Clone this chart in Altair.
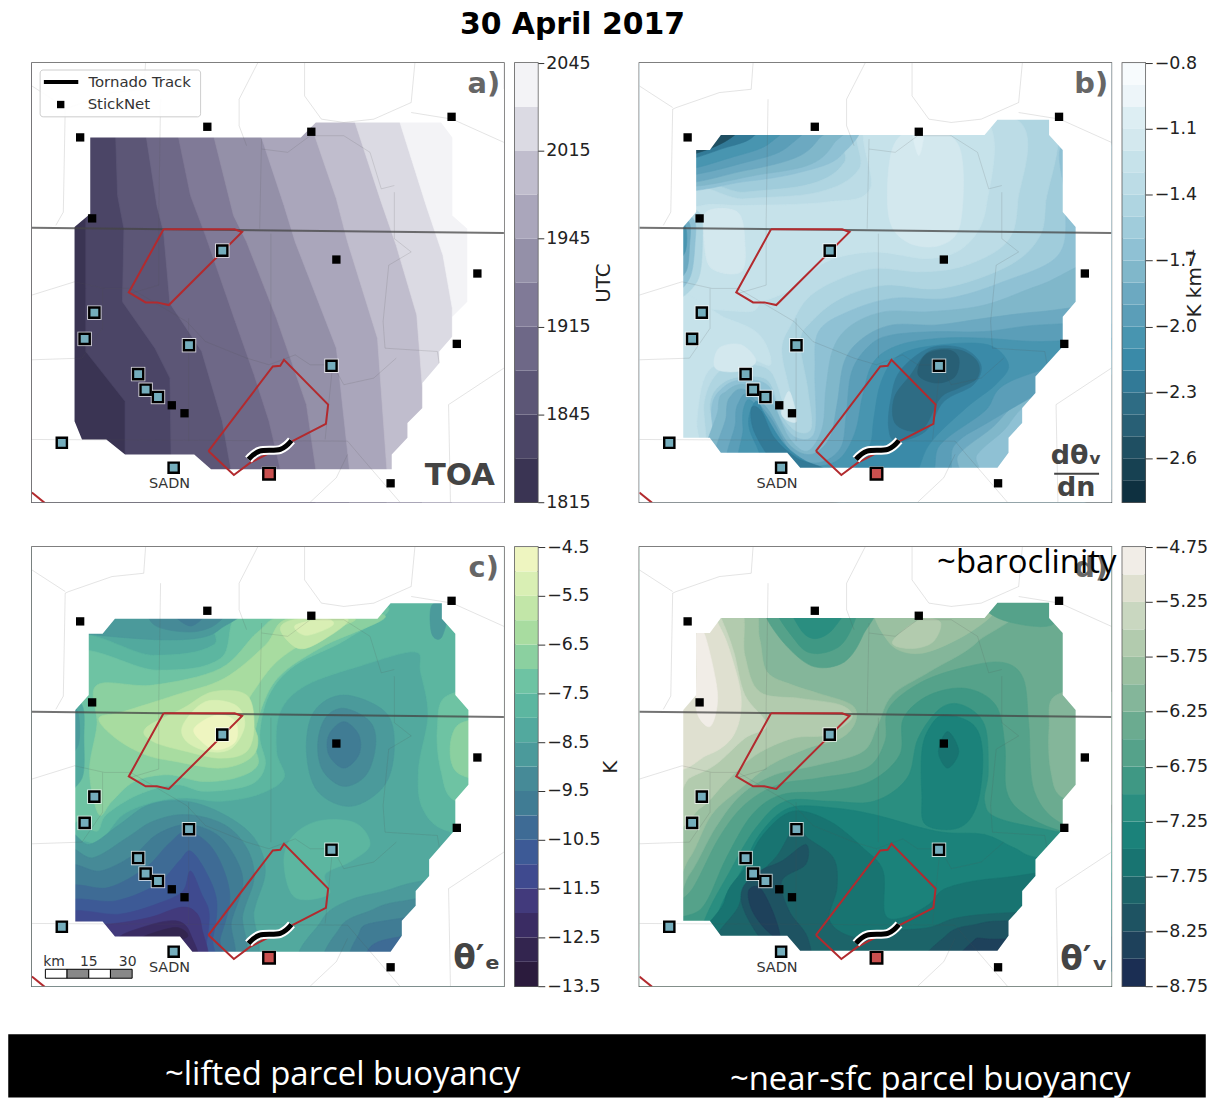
import altair as alt
import pandas as pd

# ---- colour bands (upper bound of each band -> colour) ----
a_ticks = [1095, 1125, 1155, 1185, 1215, 1245]   # minutes of day: 1815 ... 2045 UTC
a_edges = [1095, 1110, 1125, 1140, 1155, 1170, 1185, 1200, 1215, 1230, 1245]
a_cols = ["#3a3453", "#4b4566", "#5c5676", "#6e6887", "#807a97", "#9490a8", "#aaa6bb", "#c0bdcd", "#dbdae3", "#f3f3f6"]

b_edges = [-2.8, -2.7, -2.6, -2.5, -2.4, -2.3, -2.2, -2.1, -2.0, -1.9, -1.8, -1.7, -1.6, -1.5, -1.4, -1.3, -1.2, -1.1, -1.0, -0.9, -0.8]
b_cols = ["#0e3040", "#174152", "#1f4f62", "#285f75", "#2e6c84", "#327a97", "#3a8aa8", "#4895b0", "#5b9eb8", "#6ca9c1",
          "#80b7ca", "#8fc1d4", "#a0ccdb", "#afd5e1", "#bcdce6", "#c6e2ea", "#d3e8ee", "#ddeef3", "#edf5f9", "#f7fbfd"]
b_ticks = [-0.8, -1.1, -1.4, -1.7, -2.0, -2.3, -2.6]

c_edges = [-13.5, -13, -12.5, -12, -11.5, -11, -10.5, -10, -9.5, -9, -8.5, -8, -7.5, -7, -6.5, -6, -5.5, -5, -4.5]
c_cols = ["#2b1b3d", "#33254f", "#3a2c63", "#423a7c", "#3f4a8f", "#3d5a96", "#3e6b95", "#407c94", "#468a97",
          "#4b9a9b", "#52a99e", "#5cb6a0", "#6ec3a3", "#8bd0a0", "#a8dca0", "#c2e6a8", "#d9efb4", "#eef5c0"]
c_ticks = [-4.5, -5.5, -6.5, -7.5, -8.5, -9.5, -10.5, -11.5, -12.5, -13.5]

d_edges = [-8.75, -8.5, -8.25, -8, -7.75, -7.5, -7.25, -7, -6.75, -6.5, -6.25, -6, -5.75, -5.5, -5.25, -5, -4.75]
d_cols = ["#1b2e53", "#1e415b", "#1e5362", "#1c6469", "#187471", "#1b827a", "#2a8e80", "#3f9884",
          "#55a28a", "#6bab90", "#84b69a", "#9bc0a1", "#b2cbae", "#c9d7c0", "#dfe0d0", "#f1ede7"]
d_ticks = [-4.75, -5.25, -5.75, -6.25, -6.75, -7.25, -7.75, -8.25, -8.75]

# ---- contour regions: (band upper bound, outline) in paint order ----
a_base = 1110
a_regions = [
    (1125, [(160, 100), (160, 515), (160, 700), (160, 890), (265, 1040), (265, 1200), (265, 1400), (1400, 1400), (1400, 100)]),
    (1140, [(240, 100), (240, 245), (245, 420), (262, 520), (258, 740), (345, 880), (385, 970), (388, 1200), (388, 1400), (1400, 1400), (1400, 100)]),
    (1155, [(322, 100), (322, 245), (350, 450), (368, 530), (385, 745), (470, 890), (525, 1100), (548, 1245), (548, 1400), (1400, 1400), (1400, 100)]),
    (1170, [(408, 100), (408, 245), (440, 420), (480, 540), (560, 800), (610, 960), (650, 1100), (680, 1245), (680, 1400), (1400, 1400), (1400, 100)]),
    (1185, [(503, 100), (503, 245), (555, 480), (590, 560), (670, 790), (750, 1050), (775, 1245), (775, 1400), (1400, 1400), (1400, 100)]),
    (1200, [(630, 100), (630, 245), (690, 450), (720, 560), (830, 880), (865, 1245), (865, 1400), (1400, 1400), (1400, 100)]),
    (1215, [(760, 100), (760, 200), (830, 430), (860, 560), (940, 850), (965, 1245), (965, 1400), (1400, 1400), (1400, 100)]),
    (1230, [(880, 100), (880, 200), (950, 440), (990, 570), (1045, 780), (1060, 1000), (1060, 1400), (1400, 1400), (1400, 100)]),
    (1245, [(1000, 100), (1000, 200), (1070, 450), (1115, 600), (1140, 760), (1140, 1400), (1400, 1400), (1400, 100)]),
]
a_mask = [(172, 245), (735, 245), (775, 200), (1110, 200), (1140, 245), (1140, 480), (1180, 520), (1180, 740), (1140, 785),
          (1140, 845), (1105, 890), (1105, 925), (1060, 985), (1060, 1060), (1020, 1105), (1020, 1150), (978, 1200), (978, 1245),
          (495, 1245), (450, 1200), (265, 1200), (215, 1155), (150, 1155), (130, 1100), (130, 515), (172, 475)]

b_base = -1.5
b_regions = [
    (-1.4, [(100, 430), (300, 410), (480, 385), (570, 320), (600, 190), (1110, 150), (1115, 450), (1090, 560), (1000, 640), (830, 700), (680, 690), (560, 730), (480, 800), (450, 860), (470, 1000), (480, 1120), (440, 1130), (400, 1080), (365, 980), (300, 965), (240, 985), (205, 1050), (220, 1200), (100, 1200)]),
    (-1.3, [(100, 450), (300, 430), (500, 410), (610, 340), (635, 190), (1035, 190), (1040, 440), (1010, 560), (900, 630), (780, 650), (650, 640), (540, 680), (470, 730), (430, 800), (400, 880), (420, 1000), (440, 1090), (410, 1060), (370, 950), (300, 930), (230, 950), (190, 1040), (190, 1200), (100, 1200)]),
    (-1.2, [(185, 450), (300, 450), (520, 440), (640, 400), (640, 190), (950, 190), (955, 450), (900, 570), (800, 610), (650, 590), (520, 620), (430, 700), (350, 740), (300, 770), (100, 720), (100, 500)]),
    (-1.2, [(100, 740), (250, 790), (340, 840), (370, 930), (300, 910), (200, 950), (170, 1100), (180, 1200), (100, 1200)]),
    (-1.1, [(700, 280), (770, 220), (880, 270), (885, 500), (830, 570), (740, 560), (690, 480)]),
    (-1.1, [(195, 470), (280, 470), (300, 560), (290, 650), (210, 640), (190, 560)]),
    (-1.1, [(230, 880), (290, 870), (330, 920), (280, 950), (220, 940)]),
    (-1.1, [(420, 1010), (440, 1100), (400, 1080)]),
    (-1.0, [(755, 225), (785, 225), (772, 300)]),
    (-1.4, [(100, 470), (175, 470), (185, 560), (170, 680), (100, 720)]),
    (-1.6, [(100, 480), (160, 490), (165, 560), (150, 670), (100, 700)]),
    (-1.8, [(100, 490), (148, 500), (150, 570), (140, 650), (100, 670)]),
    (-2.0, [(100, 500), (138, 510), (138, 590), (100, 620)]),
    (-1.6, [(100, 395), (300, 378), (450, 350), (560, 300), (580, 190), (100, 190)]),
    (-1.7, [(100, 385), (350, 355), (480, 325), (540, 265), (555, 190), (100, 190)]),
    (-1.8, [(100, 375), (300, 345), (440, 305), (500, 250), (520, 190), (100, 190)]),
    (-1.9, [(100, 355), (320, 315), (420, 270), (450, 190), (100, 190)]),
    (-2.0, [(100, 340), (280, 300), (370, 260), (400, 190), (100, 190)]),
    (-2.2, [(100, 315), (250, 275), (320, 245), (340, 190), (100, 190)]),
    (-2.5, [(100, 300), (190, 285), (270, 240), (290, 190), (100, 190)]),
    (-1.6, [(1160, 270), (1300, 300), (1300, 1300), (230, 1300), (225, 1210), (210, 1060), (245, 995), (300, 975), (365, 995), (395, 1090), (440, 1150), (490, 1130), (490, 950), (500, 830), (580, 770), (700, 730), (850, 730), (1000, 680), (1150, 600), (1170, 450)]),
    (-1.7, [(1300, 620), (1100, 690), (950, 750), (800, 770), (680, 770), (590, 810), (540, 880), (520, 1000), (510, 1120), (470, 1190), (420, 1150), (370, 1040), (300, 990), (250, 1010), (228, 1060), (240, 1300), (880, 1300), (930, 1200), (1000, 1130), (1080, 1040), (1300, 950)]),
    (-1.8, [(1300, 760), (1100, 770), (950, 790), (820, 810), (700, 810), (620, 850), (570, 920), (550, 1050), (530, 1150), (480, 1200), (420, 1170), (360, 1060), (300, 1005), (265, 1020), (250, 1080), (260, 1300), (830, 1300), (880, 1200), (970, 1120), (1060, 1030), (1300, 900)]),
    (-1.9, [(1300, 810), (1100, 810), (950, 830), (820, 830), (700, 840), (640, 870), (590, 950), (575, 1080), (560, 1180), (500, 1225), (430, 1200), (370, 1090), (310, 1020), (285, 1040), (275, 1100), (290, 1300), (800, 1300), (870, 1170), (980, 1090), (1300, 880)]),
    (-2.0, [(1300, 850), (1100, 860), (950, 850), (830, 850), (720, 870), (650, 920), (620, 1020), (600, 1130), (560, 1210), (500, 1235), (430, 1220), (370, 1120), (320, 1040), (300, 1050), (295, 1120), (320, 1300), (760, 1300), (830, 1170), (950, 1070), (1020, 980), (1300, 880)]),
    (-2.1, [(1015, 930), (960, 870), (830, 870), (720, 900), (670, 980), (650, 1090), (640, 1170), (600, 1240), (600, 1300), (740, 1300), (800, 1170), (900, 1060), (980, 990)]),
    (-2.1, [(330, 1040), (355, 1080), (400, 1160), (450, 1210), (520, 1250), (600, 1300), (400, 1300), (330, 1170), (310, 1100)]),
    (-2.2, [(940, 930), (890, 880), (800, 880), (720, 950), (695, 1040), (690, 1120), (710, 1160), (790, 1130), (840, 1040), (920, 990)]),
    (-2.2, [(318, 1060), (345, 1070), (380, 1150), (440, 1210), (520, 1250), (450, 1300), (380, 1230), (325, 1130)]),
    (-2.3, [(930, 920), (880, 885), (800, 890), (750, 960), (705, 1030), (710, 1110), (780, 1125), (830, 1030), (880, 1000), (930, 970)]),
    (-2.4, [(880, 910), (850, 885), (790, 900), (770, 960), (820, 985), (870, 965)]),
]
b_mask = [(168, 283), (205, 283), (235, 238), (950, 238), (985, 192), (1125, 192), (1125, 238), (1162, 283), (1162, 470), (1197, 515),
          (1197, 740), (1162, 785), (1162, 875), (1088, 965), (1088, 1015), (1052, 1060), (1052, 1105), (1015, 1150), (1015, 1195),
          (985, 1240), (450, 1240), (415, 1195), (235, 1195), (205, 1150), (133, 1150), (133, 515), (168, 470)]

c_base = -8
c_regions = [
    (-7.5, [(100, 320), (340, 350), (500, 320), (565, 200), (1300, 180), (1300, 880), (1130, 880), (1060, 810), (1050, 690), (1075, 530), (1055, 400), (1040, 340), (900, 380), (750, 440), (680, 520), (670, 640), (690, 720), (620, 770), (520, 790), (430, 780), (350, 790), (260, 830), (200, 910), (160, 910), (100, 880)]),
    (-7.5, [(710, 900), (780, 850), (880, 855), (920, 920), (870, 970), (800, 1010), (810, 1070), (720, 1080), (690, 980)]),
    (-7, [(100, 360), (350, 395), (520, 360), (595, 200), (960, 200), (860, 300), (720, 380), (650, 470), (625, 590), (640, 680), (600, 740), (480, 760), (400, 740), (300, 770), (215, 830), (190, 880), (140, 850), (100, 850)]),
    (-7, [(1130, 470), (1100, 570), (1110, 700), (1150, 790), (1300, 800), (1300, 470)]),
    (-6.5, [(190, 440), (340, 440), (520, 390), (620, 280), (700, 230), (960, 230), (800, 320), (690, 400), (640, 480), (610, 600), (620, 680), (560, 720), (470, 730), (380, 710), (290, 730), (230, 790), (195, 830), (170, 700), (190, 560)]),
    (-6.5, [(1155, 560), (1150, 700), (1300, 720), (1300, 560)]),
    (-6, [(260, 520), (400, 470), (530, 420), (640, 320), (700, 240), (880, 240), (780, 290), (680, 360), (620, 440), (590, 510), (620, 600), (600, 660), (520, 690), (400, 670), (320, 650), (240, 600), (195, 540)]),
    (-5.5, [(680, 270), (730, 240), (860, 240), (800, 300), (730, 330)]),
    (-5.5, [(320, 570), (420, 510), (500, 460), (590, 470), (610, 560), (590, 640), (520, 660), (430, 640), (340, 610)]),
    (-5, [(720, 260), (800, 240), (820, 260), (750, 290)]),
    (-5, [(420, 560), (480, 490), (560, 500), (585, 560), (550, 630), (490, 640), (430, 610)]),
    (-4.5, [(450, 570), (510, 530), (560, 550), (560, 610), (510, 635), (470, 610)]),
    (-8, [(100, 480), (150, 500), (155, 600), (150, 720), (100, 740)]),
    (-8.5, [(100, 500), (138, 520), (140, 620), (100, 650)]),
    (-8.5, [(100, 270), (300, 300), (450, 300), (520, 270), (560, 200), (100, 200)]),
    (-9, [(340, 200), (345, 260), (440, 280), (510, 255), (530, 200)]),
    (-9.5, [(380, 200), (440, 262), (490, 200)]),
    (-8.5, [(1085, 200), (1085, 285), (1112, 295), (1130, 200)]),
    (-8.5, [(100, 900), (170, 920), (250, 860), (330, 800), (430, 790), (530, 830), (610, 900), (640, 1000), (610, 1120), (580, 1300), (100, 1300)]),
    (-8.5, [(760, 1300), (790, 1150), (860, 1090), (960, 1060), (1060, 1030), (1300, 1000), (1300, 1300)]),
    (-8.5, [(850, 470), (960, 520), (985, 620), (960, 740), (870, 805), (780, 760), (750, 640), (770, 520)]),
    (-9, [(100, 950), (180, 960), (270, 900), (340, 850), (430, 830), (530, 860), (590, 930), (610, 1020), (580, 1130), (550, 1300), (100, 1300)]),
    (-9, [(830, 1300), (840, 1170), (920, 1120), (1010, 1090), (1300, 1060), (1300, 1300)]),
    (-9, [(850, 510), (920, 550), (935, 620), (910, 710), (850, 745), (795, 700), (780, 620), (800, 540)]),
    (-9.5, [(100, 1000), (200, 1000), (290, 950), (350, 890), (430, 860), (510, 890), (560, 960), (580, 1040), (550, 1150), (520, 1300), (100, 1300)]),
    (-9.5, [(900, 1300), (890, 1190), (960, 1150), (1300, 1120), (1300, 1300)]),
    (-9.5, [(850, 550), (890, 590), (890, 650), (850, 690), (810, 650), (810, 590)]),
    (-10, [(100, 1060), (220, 1050), (320, 990), (380, 920), (430, 880), (490, 920), (530, 1000), (545, 1090), (520, 1200), (490, 1300), (100, 1300)]),
    (-10, [(960, 1300), (950, 1210), (1300, 1180), (1300, 1300)]),
    (-10.5, [(100, 1100), (240, 1090), (350, 1040), (410, 970), (440, 940), (480, 1000), (510, 1090), (500, 1200), (470, 1300), (100, 1300)]),
    (-11, [(100, 1130), (250, 1130), (360, 1095), (420, 1060), (440, 1000), (470, 1070), (490, 1130), (480, 1240), (470, 1300), (100, 1300)]),
    (-11.5, [(100, 1160), (220, 1160), (330, 1140), (410, 1110), (450, 1120), (470, 1170), (470, 1300), (230, 1300)]),
    (-12, [(240, 1210), (310, 1170), (400, 1150), (440, 1190), (450, 1300), (240, 1300)]),
    (-12.5, [(310, 1200), (400, 1170), (430, 1200), (330, 1215)]),
]
c_mask = [(168, 285), (205, 285), (238, 240), (940, 240), (975, 193), (1112, 193), (1112, 240), (1148, 285), (1148, 470), (1183, 515),
          (1183, 740), (1148, 785), (1148, 875), (1078, 965), (1078, 1015), (1042, 1060), (1042, 1105), (1005, 1150), (1005, 1195),
          (975, 1243), (445, 1243), (412, 1197), (238, 1197), (205, 1152), (132, 1152), (132, 515), (168, 470)]

d_base = -6.25
d_regions = [
    (-6, [(100, 1040), (150, 1010), (220, 870), (290, 770), (380, 710), (500, 680), (620, 640), (660, 560), (700, 470), (800, 400), (930, 310), (985, 190), (100, 190)]),
    (-6, [(1145, 470), (1125, 570), (1130, 700), (1165, 780), (1300, 790), (1300, 470)]),
    (-5.75, [(100, 980), (150, 960), (210, 830), (290, 750), (370, 680), (470, 630), (560, 600), (600, 550), (590, 500), (500, 465), (430, 440), (360, 400), (340, 300), (310, 190), (100, 190)]),
    (-5.75, [(670, 190), (690, 310), (770, 345), (880, 300), (970, 230), (970, 190)]),
    (-5.5, [(100, 830), (180, 810), (250, 730), (330, 650), (430, 600), (520, 590), (590, 540), (560, 500), (450, 480), (340, 460), (300, 350), (280, 190), (100, 190)]),
    (-5.5, [(700, 310), (770, 245), (830, 250), (810, 310), (750, 330)]),
    (-5.25, [(100, 760), (150, 720), (220, 680), (300, 600), (360, 560), (300, 470), (270, 340), (240, 250), (210, 190), (100, 190)]),
    (-5, [(100, 660), (200, 650), (270, 590), (290, 480), (260, 340), (230, 260), (190, 190), (100, 190)]),
    (-4.75, [(170, 285), (190, 285), (220, 420), (225, 500), (205, 565), (170, 520), (170, 400)]),
    (-6.5, [(360, 190), (360, 240), (420, 330), (490, 385), (570, 370), (620, 290), (640, 190)]),
    (-6.5, [(940, 170), (990, 240), (1130, 260), (1150, 170)]),
    (-6.75, [(390, 190), (440, 310), (490, 345), (560, 320), (600, 240), (600, 190)]),
    (-7, [(430, 190), (450, 270), (490, 300), (540, 270), (570, 190)]),
    (-6.5, [(100, 1130), (160, 1050), (230, 900), (300, 800), (390, 740), (500, 720), (630, 690), (680, 610), (690, 510), (780, 430), (900, 385), (1000, 372), (1055, 420), (1070, 560), (1085, 760), (1165, 860), (1300, 870), (1300, 1300), (100, 1300)]),
    (-6.75, [(100, 1160), (185, 1110), (250, 960), (320, 830), (400, 770), (520, 760), (640, 730), (720, 650), (730, 540), (800, 470), (900, 450), (980, 500), (1005, 620), (1010, 760), (1060, 830), (1160, 880), (1300, 900), (1300, 1300), (100, 1300)]),
    (-7, [(160, 1300), (190, 1150), (260, 1000), (330, 870), (410, 790), (530, 790), (650, 790), (740, 720), (770, 600), (830, 510), (890, 500), (950, 560), (960, 700), (950, 790), (985, 840), (1140, 880), (1300, 910), (1300, 1300)]),
    (-7.25, [(200, 1300), (230, 1120), (290, 1000), (340, 890), (420, 810), (540, 810), (650, 830), (780, 870), (850, 885), (950, 890), (1030, 930), (1100, 960), (1300, 960), (1300, 1300)]),
    (-7.25, [(840, 530), (920, 560), (945, 650), (930, 800), (880, 870), (790, 860), (780, 770), (780, 640), (800, 570)]),
    (-7.5, [(850, 580), (880, 640), (850, 690), (825, 640)]),
    (-7.5, [(240, 1300), (245, 1090), (300, 990), (350, 890), (430, 820), (530, 850), (620, 930), (675, 1000), (680, 1130), (730, 1140), (800, 1100), (850, 1050), (1000, 1020), (1300, 1010), (1300, 1300)]),
    (-7.75, [(280, 1300), (285, 1100), (340, 1010), (390, 950), (440, 860), (470, 900), (540, 960), (550, 1050), (530, 1150), (600, 1200), (700, 1180), (800, 1170), (880, 1140), (1030, 1125), (1300, 1120), (1300, 1300)]),
    (-8, [(295, 1050), (340, 1000), (400, 970), (465, 920), (465, 980), (400, 1030), (420, 1120), (470, 1200), (480, 1300), (420, 1300), (340, 1200), (295, 1110)]),
    (-8, [(810, 1300), (850, 1190), (930, 1160), (1015, 1150), (1300, 1150), (1300, 1300)]),
    (-8.25, [(900, 1300), (920, 1210), (990, 1205), (1300, 1200), (1300, 1300)]),
    (-8.25, [(310, 1060), (340, 1050), (375, 1120), (395, 1200), (360, 1180), (320, 1120)]),
]
d_mask = b_mask

# ---- map geography, shared by all panels ----
state_lines = [
    [(320, 20), (315, 100), (230, 110), (115, 155), (105, 160), (100, 470), (80, 510)],
    [(16, 90), (105, 155)],
    [(620, 20), (570, 130), (570, 210), (590, 270)],
    [(745, 20), (745, 120), (790, 190), (850, 200), (930, 190), (1030, 140), (1040, 20)],
    [(1030, 170), (1140, 190), (1278, 260)],
    [(360, 130), (355, 500), (355, 690), (280, 715)],
    [(630, 250), (625, 520)],
    [(655, 535), (655, 910)],
    [(630, 280), (700, 290), (760, 240), (850, 240), (920, 290), (950, 400), (985, 390)],
    [(985, 410), (985, 550), (1030, 590), (970, 630), (955, 800), (960, 880), (1100, 890), (1105, 925)],
    [(16, 720), (130, 680), (210, 700), (280, 700), (340, 740), (430, 800), (480, 860), (590, 910), (650, 930), (720, 900), (760, 930), (820, 930), (850, 990), (930, 970), (990, 910)],
    [(205, 700), (205, 820), (150, 910), (16, 915)],
    [(435, 790), (435, 1160)],
    [(820, 930), (800, 1155)],
    [(16, 1155), (860, 1160), (890, 1200), (1000, 1344)],
    [(1278, 940), (1130, 1050), (1135, 1344)],
    [(860, 1200), (830, 1270), (760, 1344)],
]
border_line = [(16, 517), (1278, 533)]
warning_boxes = [
    [(368, 522), (558, 522), (578, 530), (382, 750), (350, 742), (320, 742), (275, 712), (368, 522)],
    [(488, 1190), (660, 935), (680, 933), (690, 915), (808, 1050), (802, 1108), (600, 1225), (556, 1262), (488, 1190)],
    [(16, 1315), (50, 1346)],
]
track = [(595, 1215), (625, 1190), (680, 1185), (710, 1158)]
sticknet = [(145, 245), (485, 213), (763, 228), (1138, 183), (177, 489), (830, 613), (1207, 655), (1152, 867), (390, 1052), (424, 1076), (975, 1287)]
blue_sites = [(525, 586), (183, 773), (157, 852), (436, 871), (817, 933), (300, 958), (320, 1005), (353, 1027), (96, 1165), (395, 1240)]
red_site = [(650, 1258)]
sadn_label = (384, 1290)

X_DOM = [16, 1278]
Y_DOM = [1344, 21]
WIDTH, HEIGHT = 474, 441
FONT = "DejaVu Sans"


def to_ac(p):
    return (16 + (p[0] - 14) * 1262 / 1280, p[1])


def line_frame(polys):
    rows = []
    for i, poly in enumerate(polys):
        for j, p in enumerate(poly):
            rows.append({"poly": i, "idx": j, "x": p[0], "y": p[1]})
    return pd.DataFrame(rows)


def enc_xy():
    return dict(
        x=alt.X("x:Q", scale=alt.Scale(domain=X_DOM), axis=None),
        y=alt.Y("y:Q", scale=alt.Scale(domain=Y_DOM), axis=None),
    )


def points(pts, size, fill, stroke="transparent", sw=0, opacity=1):
    df = pd.DataFrame(pts, columns=["x", "y"])
    return alt.Chart(df).mark_square(size=size, filled=True, fill=fill, stroke=stroke, strokeWidth=sw, opacity=opacity).encode(**enc_xy())


def texts(rows, **mark):
    df = pd.DataFrame(rows, columns=["x", "y", "t"])
    return alt.Chart(df).mark_text(font=FONT, **mark).encode(text="t:N", **enc_xy())


def panel(base_col, regions, mask, edges, cols, interp, conv, shift_y, extra):
    upper = {float(e): c for e, c in zip(edges[1:], cols)}
    layers = []
    frame = [(-100, -100), (-100, 1500), (1500, 1500), (1500, -100)]
    polys = [frame] + [r[1] for r in regions]
    rows = []
    for i, poly in enumerate(polys):
        colour = upper[float(base_col)] if i == 0 else upper[float(regions[i - 1][0])]
        for j, p in enumerate(poly):
            q = to_ac(p) if (conv and i > 0) else p
            rows.append({"poly": f"{i:03d}", "idx": j, "x": q[0], "y": q[1] + (shift_y if i > 0 else 0), "col": colour})
    df = pd.DataFrame(rows)
    layers.append(
        alt.Chart(df).mark_line(interpolate=interp, clip=True, strokeWidth=0.6).encode(
            detail="poly:N", order="idx:Q",
            fill=alt.Fill("col:N", scale=None, legend=None),
            stroke=alt.Stroke("col:N", scale=None, legend=None),
            **enc_xy(),
        )
    )
    outer = [(-100, -100), (-100, 1500), (1500, 1500), (1500, -100), (-100, -100)]
    inner = [to_ac(p) if conv else p for p in mask]
    inner = [(p[0], p[1] + shift_y) for p in inner]
    path = outer + inner + [inner[0], outer[0]]
    mdf = pd.DataFrame([{"idx": i, "x": p[0], "y": p[1]} for i, p in enumerate(path)])
    layers.append(
        alt.Chart(mdf).mark_line(interpolate="linear", clip=True, strokeWidth=0).encode(
            order="idx:Q", fill=alt.value("white"), stroke=alt.value("transparent"), **enc_xy()
        )
    )
    layers.append(
        alt.Chart(line_frame(state_lines)).mark_line(clip=True, color="#555555", strokeWidth=0.8, opacity=0.2).encode(
            detail="poly:N", order="idx:Q", **enc_xy())
    )
    layers.append(
        alt.Chart(line_frame([border_line])).mark_line(clip=True, color="#444444", strokeWidth=2, opacity=0.75).encode(
            order="idx:Q", **enc_xy())
    )
    layers.append(
        alt.Chart(line_frame(warning_boxes)).mark_line(clip=True, color="#b22a2e", strokeWidth=2).encode(
            detail="poly:N", order="idx:Q", **enc_xy())
    )
    layers.append(
        alt.Chart(line_frame([track])).mark_line(clip=True, color="white", strokeWidth=9, interpolate="cardinal").encode(
            order="idx:Q", **enc_xy())
    )
    layers.append(
        alt.Chart(line_frame([track])).mark_line(clip=True, color="black", strokeWidth=5, interpolate="cardinal").encode(
            order="idx:Q", **enc_xy())
    )
    layers.append(points(sticknet, 70, "black"))
    layers.append(points(blue_sites + red_site, 210, "white", opacity=0.75))
    layers.append(points(blue_sites, 105, "#74adbc", "black", 2.4))
    layers.append(points(red_site, 135, "#c8504f", "black", 2.4))
    layers.append(texts([(sadn_label[0], sadn_label[1], "SADN")], fontSize=14.5, color="#333333", align="center", baseline="middle"))
    layers += extra
    return alt.layer(*layers).properties(width=WIDTH, height=HEIGHT)


def colorbar(edges, cols, ticks, fmt, title=None, label_expr=None, tick=7, title_x=None):
    df = pd.DataFrame({"lo": edges[:-1], "hi": edges[1:], "col": cols})
    ax = dict(orient="right", values=ticks, format=fmt, grid=False, domain=False, tickSize=tick, tickColor="#333333",
              labelFontSize=17.5, labelColor="#222222", labelFont=FONT, labelPadding=2, titleFontSize=20,
              titleFont=FONT, titleFontWeight="normal", titleColor="#222222", labelOverlap=False, labelBound=False)
    if label_expr:
        ax["labelExpr"] = label_expr
    if title:
        ax["title"] = title
        ax["titleAngle"] = 270
        ax["titleBaseline"] = "middle"
        ax["titleX"] = title_x
    else:
        ax["title"] = ""
    return alt.Chart(df).mark_rect().encode(
        x=alt.value(0), x2=alt.value(23),
        y=alt.Y("lo:Q", scale=alt.Scale(domain=[edges[0], edges[-1]], nice=False, zero=False), axis=alt.Axis(**ax)),
        y2="hi:Q",
        fill=alt.Fill("col:N", scale=None, legend=None),
    ).properties(width=23, height=HEIGHT)


label_style = dict(fontSize=29, fontWeight="bold", color="#666666", align="center", baseline="middle")
big_style = dict(fontWeight="bold", color="#444444", align="center", baseline="middle")

legend_box = alt.Chart(pd.DataFrame([{"x": 38, "y": 42, "x2": 467, "y2": 183}])).mark_rect(
    fill="white", stroke="#cccccc", strokeWidth=1, cornerRadius=3, opacity=0.95).encode(x2="x2:Q", y2="y2:Q", **enc_xy())
legend_line = alt.Chart(line_frame([[(48, 78), (140, 78)]])).mark_line(color="black", strokeWidth=4).encode(order="idx:Q", **enc_xy())
extra_a = [
    legend_box, legend_line, points([(93, 146)], 55, "black"),
    texts([(167, 78, "Tornado Track"), (165, 143, "StickNet")], fontSize=15, color="#333333", align="left", baseline="middle"),
    texts([(1224, 85, "a)")], **label_style),
    texts([(1160, 1265, "TOA")], fontSize=31, **big_style),
]
extra_b = [
    texts([(1224, 85, "b)")], **label_style),
    texts([(1184, 1205, "d\u03b8\u1d65")], fontSize=27, **big_style),
    texts([(1184, 1300, "dn")], fontSize=27, **big_style),
    alt.Chart(line_frame([[(1125, 1258), (1245, 1258)]])).mark_line(color="#444444", strokeWidth=2).encode(order="idx:Q", **enc_xy()),
]
scale_bars = pd.DataFrame([
    {"x": 52, "x2": 110, "c": "white"}, {"x": 110, "x2": 168, "c": "#888888"},
    {"x": 168, "x2": 226, "c": "white"}, {"x": 226, "x2": 284, "c": "#888888"},
]).assign(y=1320, y2=1293)
extra_c = [
    alt.Chart(scale_bars).mark_rect(stroke="black", strokeWidth=1).encode(
        x2="x2:Q", y2="y2:Q", fill=alt.Fill("c:N", scale=None, legend=None), **enc_xy()),
    texts([(75, 1270, "km"), (168, 1270, "15"), (272, 1270, "30")], fontSize=14, color="#333333", align="center", baseline="middle"),
    texts([(1224, 85, "c)")], **label_style),
    texts([(1205, 1262, "\u03b8\u2032\u2091")], fontSize=33, **big_style),
]
extra_d = [
    texts([(1224, 85, "d)")], **label_style),
    texts([(1205, 1265, "\u03b8\u2032\u1d65")], fontSize=33, **big_style),
    alt.Chart(pd.DataFrame([{"x": 812, "y": 70, "t": "~baroclinity"}])).mark_text(
        font="Open Sans", fontSize=33, color="black", align="left", baseline="middle").encode(text="t:N", **enc_xy()),
]

pa = panel(a_base, a_regions, a_mask, a_edges, a_cols, "linear", False, 0, extra_a)
pb = panel(b_base, b_regions, b_mask, b_edges, b_cols, "cardinal-closed", True, 0, extra_b)
pc = panel(c_base, c_regions, c_mask, c_edges, c_cols, "cardinal-closed", False, -3, extra_c)
pd_ = panel(d_base, d_regions, d_mask, d_edges, d_cols, "cardinal-closed", True, -3, extra_d)

ca = colorbar(a_edges, a_cols, a_ticks, "d", "UTC", "format(floor(datum.value/60)*100 + datum.value%60, 'd')", 6, 66)
cb = colorbar(b_edges, b_cols, b_ticks, ".1f", "K km\u207b\u00b9", None, 7, 49)
cc = colorbar(c_edges, c_cols, c_ticks, ".1f", "K", None, 7, 73)
cd = colorbar(d_edges, d_cols, d_ticks, ".2f")


def spacer(w, h=HEIGHT):
    return alt.Chart(pd.DataFrame({"x": [0], "y": [0]})).mark_point(opacity=0).encode(
        x=alt.X("x:Q", axis=None), y=alt.Y("y:Q", axis=None)).properties(width=w, height=h, view=alt.ViewBackground(stroke="transparent"))


grid = alt.concat(
    spacer(23), pa, spacer(11), ca, spacer(102), pb, spacer(11), cb,
    spacer(23), pc, spacer(11), cc, spacer(102), pd_, spacer(11), cd,
    columns=8, spacing={"row": 45, "column": 0}, bounds="flush",
)

band_text = pd.DataFrame([
    {"x": 343, "y": 40, "t": "~lifted parcel buoyancy"},
    {"x": 933, "y": 45, "t": "~near-sfc parcel buoyancy"},
])
band = alt.Chart(band_text).mark_text(font="Open Sans", fontSize=33, color="white", align="center", baseline="middle").encode(
    x=alt.X("x:Q", scale=alt.Scale(domain=[8, 1209]), axis=None),
    y=alt.Y("y:Q", scale=alt.Scale(domain=[62, 0]), axis=None),
    text="t:N",
).properties(width=1201, height=62, view=alt.ViewBackground(fill="black", stroke="black"))

chart = alt.vconcat(grid, band, spacing=38).properties(
    padding=0,
    title=alt.TitleParams("30 April 2017", fontSize=30, fontWeight="bold", font=FONT, color="black",
                          anchor="middle", dx=-36, offset=13),
).configure_view(stroke="#555555", strokeWidth=1.5)

chart.save("out.html", embed_options={"renderer": "svg", "actions": False})
